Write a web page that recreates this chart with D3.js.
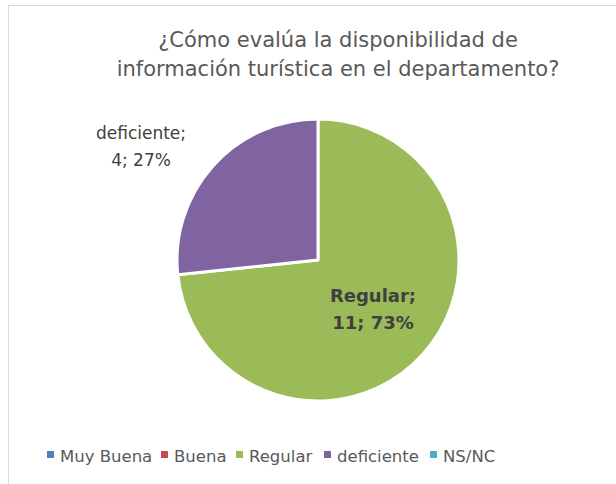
<!DOCTYPE html>
<html>
<head>
<meta charset="utf-8">
<script src="https://cdn.jsdelivr.net/npm/d3@7"></script>
<style>
  body { margin: 0; background: #fff; }
  svg text { font-family: "DejaVu Sans", sans-serif; }
</style>
</head>
<body>
<svg id="graph" width="616" height="484"></svg>
<script>
// Données du graphique
const categories = ["Muy Buena", "Buena", "Regular", "deficiente", "NS/NC"];
const valeurs = [0, 0, 11, 4, 0];
const couleurs = ["#4F81BD", "#C0504D", "#9BBB59", "#8064A2", "#4BACC6"];
const titre = ["¿Cómo evalúa la disponibilidad de", "información turística en el departamento?"];

const svg = d3.select("#graph");

// Cadre du graphique
svg.append("rect")
  .attr("x", 8.5).attr("y", 5.5)
  .attr("width", 640).attr("height", 500)
  .attr("fill", "#fff")
  .attr("stroke", "#D9D9D9");

// Titre
svg.append("text")
  .attr("text-anchor", "middle")
  .attr("fill", "#595959")
  .attr("font-size", 21)
  .selectAll("tspan")
  .data(titre)
  .enter().append("tspan")
  .attr("x", 338)
  .attr("y", (d, i) => 47 + i * 29)
  .text(d => d);

// Camembert
const cx = 318, cy = 260, rayon = 141;
const total = d3.sum(valeurs);
const donnees = categories.map((c, i) => ({ cat: c, val: valeurs[i], col: couleurs[i] }));

const pie = d3.pie().value(d => d.val).sort(null);
const arc = d3.arc().innerRadius(0).outerRadius(rayon);

const g = svg.append("g").attr("transform", `translate(${cx},${cy})`);

const parts = pie(donnees).filter(d => d.data.val > 0);

g.selectAll("path")
  .data(parts)
  .enter().append("path")
  .attr("d", arc)
  .attr("fill", d => d.data.col)
  .attr("stroke", "#fff")
  .attr("stroke-width", 3)
  .attr("stroke-linejoin", "round");

// Étiquettes
const fmt = d => `${d.data.cat};`;
const pct = d => `${d.data.val}; ${Math.round(d.data.val / total * 100)}%`;

const positions = {
  "Regular": { x: 373, y: 302, gras: true, taille: 18 },
  "deficiente": { x: 141, y: 139, gras: false, taille: 17 }
};

parts.forEach(d => {
  const p = positions[d.data.cat];
  const t = svg.append("text")
    .attr("text-anchor", "middle")
    .attr("fill", "#404040")
    .attr("font-size", p.taille)
    .attr("font-weight", p.gras ? "bold" : "normal");
  t.append("tspan").attr("x", p.x).attr("y", p.y).text(fmt(d));
  t.append("tspan").attr("x", p.x).attr("y", p.y + 27).text(pct(d));
});

// Légende
const legendeX = [47, 161, 236, 324, 430];
const leg = svg.append("g");
categories.forEach((c, i) => {
  leg.append("rect")
    .attr("x", legendeX[i]).attr("y", 451)
    .attr("width", 7).attr("height", 7)
    .attr("fill", couleurs[i]);
  leg.append("text")
    .attr("x", legendeX[i] + 13).attr("y", 462)
    .attr("fill", "#595959")
    .attr("font-size", 16.5)
    .text(c);
});
</script>
</body>
</html>
